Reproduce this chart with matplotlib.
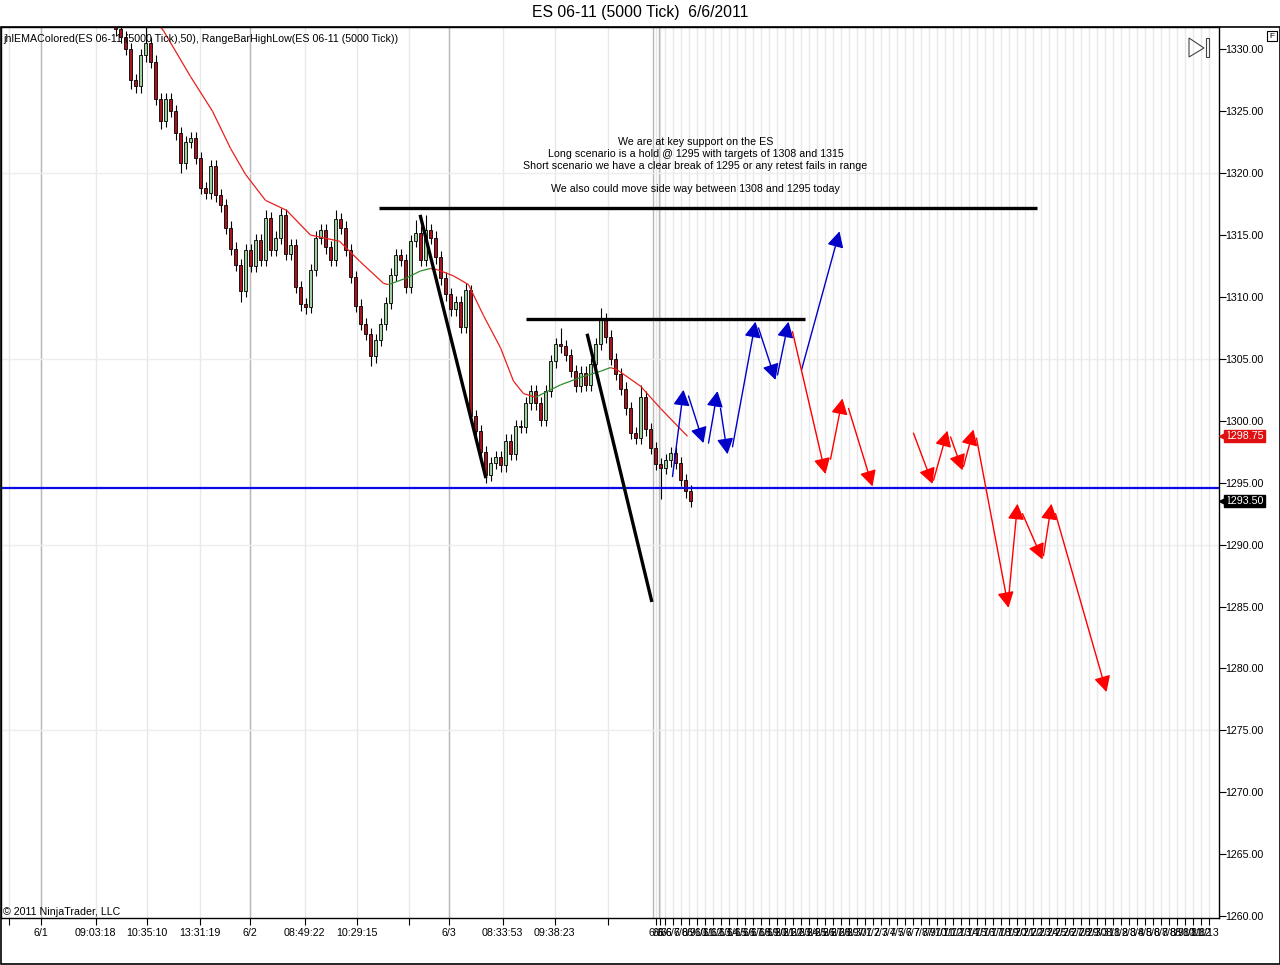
import numpy as np
import pandas as pd
import matplotlib
matplotlib.use("Agg")
import matplotlib.pyplot as plt
import matplotlib.transforms as mtransforms
from matplotlib.collections import LineCollection
from matplotlib.patches import Polygon

plt.rcParams['font.family'] = ['Liberation Sans', 'DejaVu Sans']

# range bar closes, one per bar (bar 0 is the first bar visible at the top left)
closes = [1331.6, 1331.0, 1330.0, 1327.5, 1327.0, 1329.5, 1330.5, 1329.0, 1326.0, 1324.2,
          1326.0, 1325.0, 1323.2, 1320.8, 1322.5, 1322.8, 1321.2, 1318.8, 1318.4, 1320.6,
          1318.2, 1317.4, 1315.6, 1313.9, 1312.6, 1310.5, 1313.8, 1312.5, 1314.6, 1313.0,
          1316.4, 1313.8, 1314.8, 1316.6, 1313.5, 1314.2, 1310.8, 1309.4, 1309.2, 1312.2,
          1314.8, 1315.4, 1314.0, 1313.0, 1316.3, 1315.6, 1313.8, 1311.6, 1309.3, 1307.8,
          1307.0, 1305.2, 1306.5, 1307.8, 1309.5, 1311.8, 1313.4, 1313.0, 1310.8, 1314.5,
          1315.2, 1313.0, 1315.4, 1314.8, 1313.2, 1311.5, 1310.2, 1309.0, 1309.6, 1307.6,
          1310.6, 1300.4, 1299.2, 1297.5, 1295.6, 1296.6, 1297.1, 1296.4, 1298.4, 1297.3,
          1299.6, 1299.5, 1301.4, 1302.4, 1301.4, 1300.1, 1302.4, 1304.8, 1306.2, 1306.0,
          1305.3, 1304.0, 1302.8, 1303.9, 1302.9, 1304.6, 1306.2, 1308.2, 1306.8, 1305.0,
          1303.8, 1302.6, 1301.0, 1299.0, 1298.6, 1301.9, 1299.3, 1297.8, 1296.5, 1296.2,
          1296.8, 1297.4, 1296.6, 1295.2, 1294.3, 1293.5]
first_open = 1331.8
# bars whose wicks reach further than the usual half point
wick_highs = {6: 1331.9, 30: 1317.0, 33: 1317.2, 44: 1317.0, 60: 1316.2, 62: 1316.6,
              71: 1311.0, 89: 1307.5, 97: 1309.1, 105: 1302.9}
wick_lows = {3: 1326.8, 9: 1323.6, 13: 1320.0, 25: 1309.6, 38: 1308.6, 51: 1304.4,
             74: 1295.0, 109: 1293.7, 115: 1293.0}

# jhlEMAColored(50)
ema_x = [8, 9.6, 15, 19.4, 23, 26, 30, 34.2, 39, 44.8, 48.8, 53.6, 54.6, 58, 61, 63, 64.4,
         67.6, 70.6, 73.6, 77, 79.6, 81.6, 84, 89, 93, 97, 99, 100.4, 105, 109, 114.4]
ema_y = [1332.3, 1331.5, 1327.8, 1325.0, 1322.0, 1319.9, 1317.8, 1317.0, 1315.0, 1314.5,
         1312.9, 1311.1, 1311.0, 1311.5, 1312.1, 1312.3, 1312.2, 1311.7, 1311.0, 1308.5,
         1305.9, 1303.2, 1302.2, 1301.9, 1302.9, 1303.5, 1304.0, 1304.3, 1304.1, 1302.8,
         1301.0, 1298.75]

# drawn objects
support = 1294.6
level_y = [1317.2, 1308.2]
level_x0 = [52.6, 82.0]
level_x1 = [184.2, 137.8]
trend_x0 = [61.0, 94.4]
trend_y0 = [1316.5, 1306.9]
trend_x1 = [74.0, 107.2]
trend_y1 = [1295.5, 1285.5]

# long scenario arrows (blue)
blue_x0 = [111.4, 114.6, 118.6, 121.0, 123.4, 128.6, 132.4, 137.2]
blue_y0 = [1295.5, 1302.0, 1298.2, 1301.0, 1297.9, 1307.5, 1303.7, 1304.1]
blue_x1 = [113.6, 117.6, 120.4, 122.4, 128.0, 132.0, 134.6, 144.8]
blue_y1 = [1302.5, 1298.2, 1302.4, 1297.3, 1308.0, 1303.3, 1308.0, 1315.3]
# short scenario arrows (red)
red_x0 = [135.4, 143.0, 146.6, 159.6, 163.6, 167.0, 169.6, 172.2, 178.6, 181.4, 185.6, 188.0]
red_y0 = [1307.2, 1296.9, 1301.0, 1299.0, 1295.2, 1298.7, 1296.3, 1298.6, 1285.6, 1292.5,
          1289.1, 1292.5]
red_x1 = [142.0, 145.4, 151.4, 163.4, 166.4, 169.4, 171.6, 178.6, 180.4, 185.4, 187.2, 198.2]
red_y1 = [1295.7, 1301.8, 1294.7, 1294.9, 1299.2, 1296.0, 1299.3, 1284.9, 1293.3, 1288.8,
          1293.3, 1278.1]

# time axis
time_ticks = [-21.4, -15, -4, 6.2, 16.8, 26.8, 37.8, 48.2, 58.6, 66.6, 77.4, 87.8, 98.4]
time_labels = ['', '6/1', '09:03:18', '10:35:10', '13:31:19', '6/2', '08:49:22', '10:29:15',
               '', '6/3', '08:33:53', '09:38:23', '']
day_lines = [-15, 26.8, 66.6, 107.4, 108.6]
future_labels = ['6/6', '6/6', '6/6'] + [f"{d.month}/{d.day}" for d in
                                         pd.date_range('2011-06-07', periods=68)]

last_price = 1293.50
ema_last = 1298.75

annotation = ("We are at key support on the ES\n"
              "Long scenario is a hold @ 1295 with targets of 1308 and 1315\n"
              "Short scenario we have a clear break of 1295 or any retest fails in range\n"
              "\n"
              "We also could move side way between 1308 and 1295 today")

FS = 7.7
W, H = 1280, 965
fig = plt.figure(figsize=(W / 100, H / 100), dpi=100)
ax = fig.add_axes([0.5 / W, 1 - 918 / H, 1218 / W, (918 - 27) / H])
ax.set_xlim(-23, 220.6)
ax.set_ylim(1259.85, 1331.8)

# grid
future_ticks = list(np.r_[108, 108.8, 109.8, 111.4 + 1.6 * np.arange(68)])
all_ticks = time_ticks + future_ticks
all_labels = time_labels + future_labels
for x in all_ticks:
    ax.axvline(x, color='#e8e8e8', lw=1, zorder=0)
for x in day_lines:
    ax.axvline(x, color='#b8b8b8', lw=1, zorder=0)
for y in [1275, 1290, 1305, 1320]:
    ax.axhline(y, color='#ededed', lw=1, zorder=0)

# candles
opens = [first_open] + closes[:-1]
for i, (o, c) in enumerate(zip(opens, closes)):
    hi = wick_highs.get(i, max(o, c) + 0.5)
    lo = wick_lows.get(i, min(o, c) - 0.5)
    ax.vlines(i, lo, hi, color='black', lw=0.8, zorder=2)
    col = '#9ccf9c' if c >= o else '#a8141c'
    ax.bar(i, abs(c - o) if abs(c - o) > 0.05 else 0.08, bottom=min(o, c), width=0.62,
           color=col, edgecolor='black', linewidth=0.6, zorder=3)

# EMA coloured by slope
pts = np.column_stack([ema_x, ema_y])
segs = [pts[k:k + 2] for k in range(len(pts) - 1)]
cols = ['#2e8b2e' if ema_y[k + 1] > ema_y[k] else '#e8201c' for k in range(len(pts) - 1)]
ax.add_collection(LineCollection(segs, colors=cols, linewidths=0.9, zorder=4))

# support line and levels
ax.axhline(support, color='#0a0ae6', lw=1.6, zorder=5)
for y, a, b in zip(level_y, level_x0, level_x1):
    ax.plot([a, b], [y, y], color='black', lw=2.4, solid_capstyle='butt', zorder=5)
for a, b, c, d in zip(trend_x0, trend_y0, trend_x1, trend_y1):
    ax.plot([a, c], [b, d], color='black', lw=2.4, zorder=5)

def draw_arrows(xs0, ys0, xs1, ys1, line_col, head_col):
    for a, b, c, d in zip(xs0, ys0, xs1, ys1):
        ax.annotate('', xy=(c, d), xytext=(a, b),
                    arrowprops=dict(arrowstyle='-|>,head_length=0.8,head_width=0.42',
                                    mutation_scale=12, color=line_col, fc=head_col,
                                    ec=head_col, lw=1, shrinkA=0, shrinkB=0), zorder=6)

draw_arrows(blue_x0, blue_y0, blue_x1, blue_y1, '#1a1ae0', '#0000c8')
draw_arrows(red_x0, red_y0, red_x1, red_y1, '#f01010', '#ff0000')

ax.text(116, 1320.6, annotation, ha='center', va='center', multialignment='center',
        fontsize=FS, linespacing=1.22, zorder=7)

# axes styling
for s in ax.spines.values():
    s.set_color('black')
    s.set_linewidth(1)
ax.set_xticks(all_ticks)
ax.set_xticklabels(all_labels)
ax.set_yticks(np.arange(1260, 1331, 5))
ax.set_yticklabels([f"{v:.2f}" for v in np.arange(1260, 1331, 5)])
ax.yaxis.tick_right()
ax.tick_params(axis='both', labelsize=FS, length=5, width=0.8, direction='out', colors='black')
ax.tick_params(axis='x', pad=2)
ax.tick_params(axis='y', pad=0)

# price markers on the axis
blend = mtransforms.blended_transform_factory(ax.transAxes, ax.transData)
for price, col in [(ema_last, '#e01010'), (last_price, 'black')]:
    ax.text(1.0058, price, f"{price:.2f}", transform=blend, ha='left', va='center',
            fontsize=FS, color='white', clip_on=False, zorder=8,
            bbox=dict(boxstyle='square,pad=0.1', fc=col, ec=col))
    ax.plot([1.0035], [price], marker='<', ms=6, color=col, transform=blend,
            clip_on=False, zorder=8)

# header and texts
fig.text(0.5, 1 - 13 / H, "ES 06-11 (5000 Tick)  6/6/2011", ha='center', va='center',
         fontsize=11.3)
fig.text(3 / W, 1 - 39 / H,
         "jhlEMAColored(ES 06-11 (5000 Tick),50), RangeBarHighLow(ES 06-11 (5000 Tick))",
         ha='left', va='center', fontsize=FS, zorder=9)
fig.text(3 / W, 1 - 912 / H, "\u00a9 2011 NinjaTrader, LLC", ha='left', va='center',
         fontsize=FS)

def px(x, y):
    return (x / W, 1 - y / H)

fig.patches.append(Polygon([px(1189, 38), px(1189, 57), px(1204, 48)], closed=True,
                           fill=False, ec='#444444', lw=0.8, transform=fig.transFigure))
fig.patches.append(Polygon([px(1206, 38), px(1209, 38), px(1209, 57), px(1206, 57)],
                           closed=True, fill=False, ec='#444444', lw=0.8,
                           transform=fig.transFigure))
fig.patches.append(Polygon([px(1267, 31), px(1277, 31), px(1277, 41), px(1267, 41)],
                           closed=True, fill=False, ec='black', lw=0.8,
                           transform=fig.transFigure))
fig.text(1272 / W, 1 - 36 / H, "F", ha='center', va='center', fontsize=6)
# outer frame
fig.patches.append(Polygon([px(0.5, 27), px(1279.5, 27), px(1279.5, 963.5), px(0.5, 963.5)],
                           closed=True, fill=False, ec='black', lw=1.2,
                           transform=fig.transFigure))

fig.savefig("out.png", dpi=100, facecolor='white')
